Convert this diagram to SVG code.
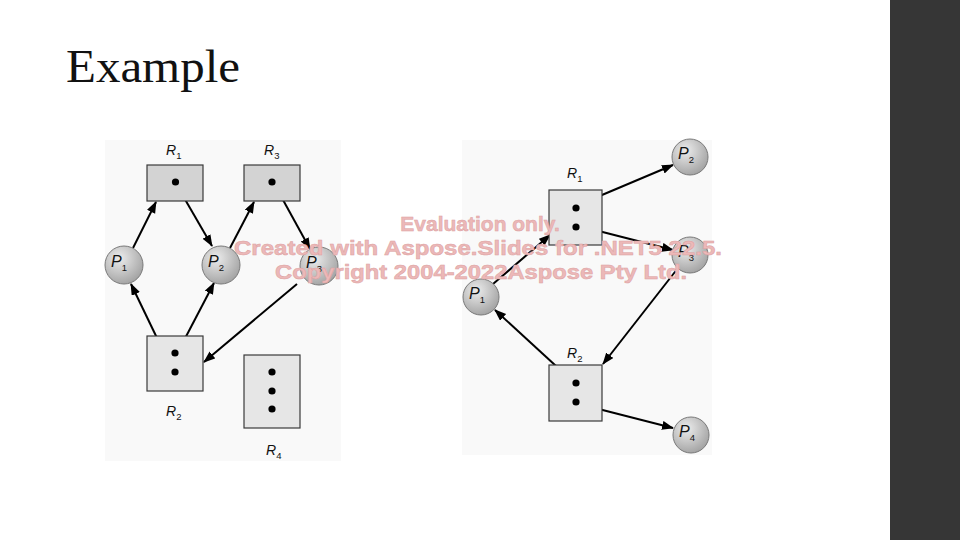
<svg xmlns="http://www.w3.org/2000/svg" width="960" height="540" viewBox="0 0 960 540">
<style>
.bg{fill:#f9f9f9}
.res{stroke:#3a3a3a;stroke-width:1.2}
.dark{fill:#d3d3d3}
.light{fill:#e6e6e6}
.proc{fill:url(#pg);stroke:#7a7a7a;stroke-width:1}
.dot{fill:#000}
.edge{stroke:#000;stroke-width:2;fill:none;marker-end:url(#ah)}
.lbl{font-family:"Liberation Sans",Arial,sans-serif;font-size:14px;fill:#111}
.it{font-style:italic}
.sub{font-size:9.5px}
.wm{font-family:"Liberation Sans",Arial,sans-serif;font-weight:bold;font-size:21px;fill:#ecb8b8;stroke:#dca2a2;stroke-width:0.5;text-anchor:middle}
</style>
<defs>
<radialGradient id="pg" cx="0.38" cy="0.32" r="0.7">
<stop offset="0" stop-color="#ececec"/>
<stop offset="1" stop-color="#a4a4a4"/>
</radialGradient>
<marker id="ah" markerUnits="userSpaceOnUse" markerWidth="12" markerHeight="10" refX="11" refY="4.5" orient="auto">
<path d="M0,0 L12,4.5 L0,9 z" fill="#000"/>
</marker>
</defs>
<rect width="960" height="540" fill="#ffffff"/>
<rect x="890" y="0" width="70" height="540" fill="#363636"/>
<text x="66" y="82" font-family="'Liberation Serif','Times New Roman',serif" font-size="46" fill="#111" textLength="174" lengthAdjust="spacingAndGlyphs">Example</text>

<rect class="bg" x="105" y="140" width="236" height="321"/>
<rect class="bg" x="462" y="140" width="250" height="315"/>

<g id="connectors">
<line class="edge" x1="133" y1="248" x2="156" y2="202"/>
<line class="edge" x1="179" y1="189" x2="212" y2="246"/>
<line class="edge" x1="230" y1="248" x2="254" y2="202"/>
<line class="edge" x1="277" y1="189" x2="310" y2="249"/>
<line class="edge" x1="170" y1="365" x2="131" y2="284"/>
<line class="edge" x1="180" y1="348" x2="214" y2="283"/>
<line class="edge" x1="297" y1="284" x2="204" y2="362"/>
<line class="edge" x1="583" y1="203" x2="673" y2="165"/>
<line class="edge" x1="583" y1="227" x2="673" y2="250"/>
<line class="edge" x1="493" y1="284" x2="550" y2="235"/>
<line class="edge" x1="678" y1="268" x2="603" y2="364"/>
<line class="edge" x1="568" y1="377" x2="495" y2="310"/>
<line class="edge" x1="583" y1="405" x2="673" y2="428"/>
</g>

<g id="L-R1">
<rect class="res dark" x="147" y="165" width="56" height="36"/>
<circle class="dot" cx="175.5" cy="182" r="3.6"/>
<text class="lbl" x="166" y="155"><tspan class="it">R</tspan><tspan class="sub" dy="4">1</tspan></text>
</g>
<g id="L-R3">
<rect class="res dark" x="244" y="165" width="56" height="36"/>
<circle class="dot" cx="272" cy="182" r="3.6"/>
<text class="lbl" x="264" y="155"><tspan class="it">R</tspan><tspan class="sub" dy="4">3</tspan></text>
</g>
<g id="L-R2">
<rect class="res light" x="147" y="336" width="56" height="55"/>
<circle class="dot" cx="175" cy="353" r="3.6"/>
<circle class="dot" cx="175" cy="372" r="3.6"/>
<text class="lbl" x="166" y="416"><tspan class="it">R</tspan><tspan class="sub" dy="4">2</tspan></text>
</g>
<g id="L-R4">
<rect class="res light" x="244" y="355" width="56" height="73"/>
<circle class="dot" cx="272" cy="372" r="3.6"/>
<circle class="dot" cx="272" cy="391" r="3.6"/>
<circle class="dot" cx="272" cy="409" r="3.6"/>
<text class="lbl" x="266" y="455"><tspan class="it">R</tspan><tspan class="sub" dy="4">4</tspan></text>
</g>
<g id="L-P1">
<circle class="proc" cx="124" cy="265" r="19"/>
<text class="lbl" x="111" y="267"><tspan class="it" font-size="16">P</tspan><tspan class="sub" dy="4">1</tspan></text>
</g>
<g id="L-P2">
<circle class="proc" cx="221" cy="265" r="19"/>
<text class="lbl" x="208" y="267"><tspan class="it" font-size="16">P</tspan><tspan class="sub" dy="4">2</tspan></text>
</g>
<g id="L-P3">
<circle class="proc" cx="319" cy="266" r="19"/>
<text class="lbl" x="306" y="268"><tspan class="it" font-size="16">P</tspan><tspan class="sub" dy="4">3</tspan></text>
</g>

<g id="R-R1">
<rect class="res light" x="549" y="190" width="53" height="55"/>
<circle class="dot" cx="576" cy="208" r="3.6"/>
<circle class="dot" cx="576" cy="227" r="3.6"/>
<text class="lbl" x="567" y="178"><tspan class="it">R</tspan><tspan class="sub" dy="4">1</tspan></text>
</g>
<g id="R-R2">
<rect class="res light" x="549" y="365" width="53" height="56"/>
<circle class="dot" cx="576" cy="383" r="3.6"/>
<circle class="dot" cx="576" cy="402" r="3.6"/>
<text class="lbl" x="567" y="358"><tspan class="it">R</tspan><tspan class="sub" dy="4">2</tspan></text>
</g>
<g id="R-P1">
<circle class="proc" cx="481" cy="297" r="18"/>
<text class="lbl" x="469" y="299"><tspan class="it" font-size="16">P</tspan><tspan class="sub" dy="4">1</tspan></text>
</g>
<g id="R-P2">
<circle class="proc" cx="690" cy="157" r="18"/>
<text class="lbl" x="678" y="159"><tspan class="it" font-size="16">P</tspan><tspan class="sub" dy="4">2</tspan></text>
</g>
<g id="R-P3">
<circle class="proc" cx="690" cy="255" r="18"/>
<text class="lbl" x="678" y="257"><tspan class="it" font-size="16">P</tspan><tspan class="sub" dy="4">3</tspan></text>
</g>
<g id="R-P4">
<circle class="proc" cx="691" cy="435" r="18"/>
<text class="lbl" x="679" y="437"><tspan class="it" font-size="16">P</tspan><tspan class="sub" dy="4">4</tspan></text>
</g>

<g id="watermark">
<text class="wm" x="480" y="231">Evaluation only.</text>
<text class="wm" x="478" y="255" textLength="488" lengthAdjust="spacingAndGlyphs">Created with Aspose.Slides for .NET5 22.5.</text>
<text class="wm" x="481" y="279" textLength="412" lengthAdjust="spacingAndGlyphs">Copyright 2004-2022Aspose Pty Ltd.</text>
</g>
</svg>
